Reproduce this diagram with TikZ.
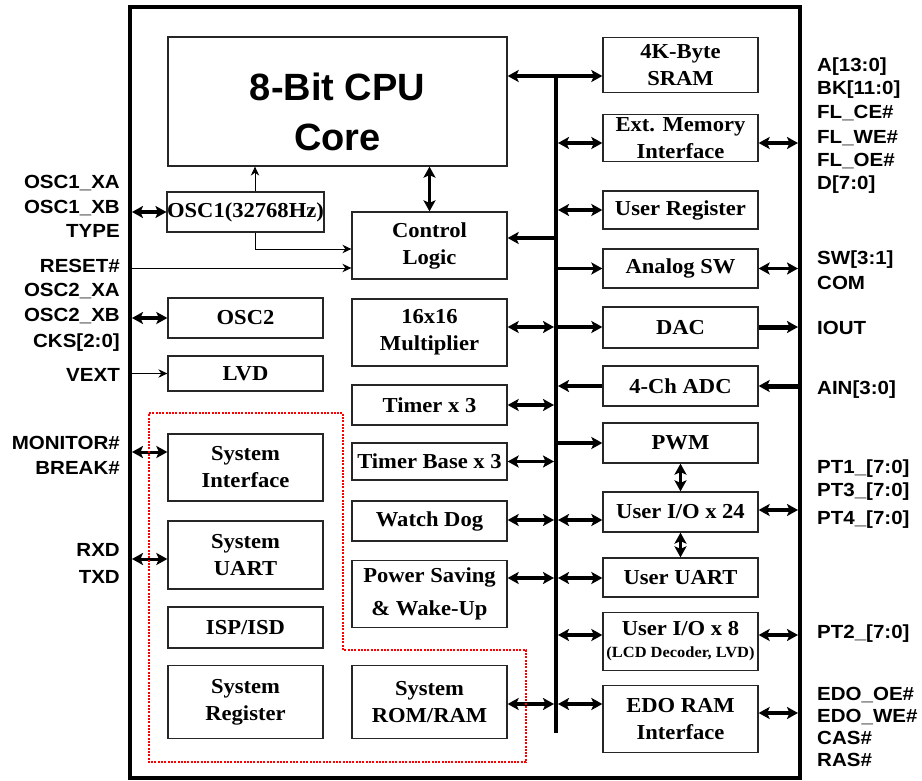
\documentclass[tikz,border=0pt]{standalone}
\usepackage{fontspec}
\setmainfont[FakeStretch=1.06]{Liberation Serif}
\newfontfamily\arialf[FakeStretch=1.08]{Liberation Sans}
\newfontfamily\arialcpu{Liberation Sans}
\usetikzlibrary{arrows.meta,calc}
\begin{document}
\begin{tikzpicture}[x=1pt,y=-1pt,
  blk/.style={draw=black!85, line width=1.3pt, inner sep=0pt, align=center,
    font=\bfseries\fontsize{21.3}{27}\selectfont},
  lbl/.style={font=\arialf\bfseries\fontsize{19}{23}\selectfont, inner sep=0pt,
    text height=13.6pt, text depth=0pt},
  dbl/.style={line width=3.4pt,
    arrows={Stealth[length=11pt,width=12pt,inset=2.5pt]-Stealth[length=11pt,width=12pt,inset=2.5pt]}},
  sgl/.style={line width=3.4pt, arrows={-Stealth[length=11pt,width=12pt,inset=2.5pt]}},
  thinarr/.style={line width=0.9pt, arrows={-Stealth[length=9pt,width=8.5pt,inset=3pt]}},
  reddot/.style={draw=red, line width=1.8pt, dash pattern=on 2pt off 1.3pt}
]
\useasboundingbox (0,0) rectangle (922,781);
\fill[white] (0,0) rectangle (922,781);

% frame
\draw[line width=4pt] (130,7.5) rectangle (800,777.5);
\coordinate (fL) at (132,0);
\coordinate (fR) at (798,0);

% rows
\coordinate (rTop) at (0,76);
\coordinate (rExt) at (0,143);
\coordinate (rCtrl) at (0,238);
\coordinate (rMult) at (0,327);
\coordinate (rAdc) at (0,386);
\coordinate (rWd) at (0,520);
\coordinate (rU24) at (0,510);
\coordinate (rPs) at (0,578);
\coordinate (rU8) at (0,635);
\coordinate (rRom) at (0,704);
\coordinate (rEdo) at (0,713);
\coordinate (rSI) at (0,452);
\coordinate (rSU) at (0,559);
\coordinate (rReset) at (0,268);
\coordinate (rOsc) at (0,249);
\coordinate (cOx) at (255,0);

% CPU
\node[blk, minimum width=339pt, minimum height=129pt] (cpu) at (337.5,101.5) {};
\node[font=\arialcpu\bfseries\fontsize{38}{50}\selectfont, align=center, inner sep=0pt]
  (cputxt) at ([yshift=-10pt]cpu.center) {8-Bit CPU\\Core};

% left column
\node[blk, minimum width=155pt, minimum height=40pt] (osc1) at (245.5,212) {OSC1(32768Hz)};
\node[blk, minimum width=155pt, minimum height=40pt] (osc2) at (245.5,318) {OSC2};
\node[blk, minimum width=155pt, minimum height=35pt] (lvd) at (245.5,373.5) {LVD};
\node[blk, minimum width=155pt, minimum height=67pt] (sysif) at (245.5,467.5) {System\\Interface};
\node[blk, minimum width=155pt, minimum height=68pt] (sysuart) at (245.5,555) {System\\UART};
\node[blk, minimum width=155pt, minimum height=41pt] (isp) at (245.5,627.5) {ISP/ISD};
\node[blk, minimum width=155pt, minimum height=73pt] (sysreg) at (245.5,702) {System\\Register};

% middle column
\node[blk, minimum width=155pt, minimum height=67pt] (ctrl) at (429.5,245.5) {Control\\Logic};
\node[blk, minimum width=155pt, minimum height=67pt] (mult) at (429.5,332.5) {16x16\\Multiplier};
\node[blk, minimum width=155pt, minimum height=40pt] (timer) at (429.5,405) {Timer x 3};
\node[blk, minimum width=155pt, minimum height=37pt] (tbase) at (429.5,461.5) {Timer Base x 3};
\node[blk, minimum width=155pt, minimum height=40pt] (wdog) at (429.5,521) {Watch Dog};
\node[blk, minimum width=155pt, minimum height=67pt] (psave) at (429.5,594) {Power Saving\\[6pt]\& Wake-Up};
\node[blk, minimum width=155pt, minimum height=73pt] (romram) at (429.5,702) {System\\ROM/RAM};

% right column
\node[blk, minimum width=155pt, minimum height=55pt] (sram) at (680.5,65) {4K-Byte\\SRAM};
\node[blk, minimum width=155pt, minimum height=47pt] (extmem) at (680.5,138) {Ext. Memory\\Interface};
\node[blk, minimum width=155pt, minimum height=38pt] (ureg) at (680.5,210) {User Register};
\node[blk, minimum width=155pt, minimum height=39pt] (asw) at (680.5,268.5) {Analog SW};
\node[blk, minimum width=155pt, minimum height=41pt] (dac) at (680.5,327.5) {DAC};
\node[blk, minimum width=155pt, minimum height=40pt] (adc) at (680.5,386) {4-Ch ADC};
\node[blk, minimum width=155pt, minimum height=40pt] (pwm) at (680.5,443) {PWM};
\node[blk, minimum width=155pt, minimum height=40pt] (uio24) at (680.5,512) {User I/O x 24};
\node[blk, minimum width=155pt, minimum height=39pt] (uuart) at (680.5,577.5) {User UART};
\node[blk, minimum width=155pt, minimum height=58pt] (uio8) at (680.5,641.5) {User I/O x 8\\[-5pt]{\fontsize{15.5}{20}\selectfont(LCD Decoder, LVD)}};
\node[blk, minimum width=155pt, minimum height=67pt] (edo) at (680.5,719) {EDO RAM\\Interface};

% bus
\coordinate (busT) at (556,74);
\coordinate (busB) at (556,733);
\coordinate (bL) at (554,0);
\coordinate (bR) at (558,0);
\draw[line width=4.5pt] (busT) -- (busB);

% bus connections
\draw[dbl] (cpu.east |- rTop) -- (sram.west |- rTop);
\draw[dbl] (bR |- rExt) -- (extmem.west |- rExt);
\draw[dbl] (bR |- ureg.west) -- (ureg.west);
\draw[sgl] (bL |- rCtrl) -- (ctrl.east |- rCtrl);
\draw[sgl] (bR |- asw.west) -- (asw.west);
\draw[dbl] (mult.east |- rMult) -- (bL |- rMult);
\draw[sgl] (bR |- rMult) -- (dac.west |- rMult);
\draw[sgl] (adc.west |- rAdc) -- (bR |- rAdc);
\draw[dbl] (timer.east) -- (bL |- timer.east);
\draw[sgl] (bR |- pwm.west) -- (pwm.west);
\draw[dbl] (tbase.east) -- (bL |- tbase.east);
\draw[dbl] (wdog.east |- rWd) -- (bL |- rWd);
\draw[dbl] (bR |- rWd) -- (uio24.west |- rWd);
\draw[dbl] (psave.east |- rPs) -- (bL |- rPs);
\draw[dbl] (bR |- rPs) -- (uuart.west |- rPs);
\draw[dbl] (bR |- rU8) -- (uio8.west |- rU8);
\draw[dbl] (romram.east |- rRom) -- (bL |- rRom);
\draw[dbl] (bR |- rRom) -- (edo.west |- rRom);

% vertical
\draw[dbl] (ctrl.north |- cpu.south) -- (ctrl.north);
\draw[dbl] (pwm.south) -- (uio24.north);
\draw[dbl] (uio24.south) -- (uuart.north);

% right external
\draw[dbl] (extmem.east |- rExt) -- (fR |- rExt);
\draw[dbl] (asw.east) -- (fR |- asw.east);
\draw[sgl, line width=5pt] (dac.east |- rMult) -- (fR |- rMult);
\draw[sgl, line width=5pt] (fR |- rAdc) -- (adc.east |- rAdc);
\draw[dbl] (uio24.east |- rU24) -- (fR |- rU24);
\draw[dbl] (uio8.east |- rU8) -- (fR |- rU8);
\draw[dbl] (edo.east |- rEdo) -- (fR |- rEdo);

% left external
\draw[dbl] (fL |- osc1.west) -- (osc1.west);
\draw[thinarr] (fL |- rReset) -- (ctrl.west |- rReset);
\draw[thinarr] (cOx |- osc1.south) |- (ctrl.west |- rOsc);
\draw[thinarr] (cOx |- osc1.north) -- (cOx |- cpu.south);
\draw[dbl] (fL |- osc2.west) -- (osc2.west);
\draw[thinarr] (fL |- lvd.west) -- (lvd.west);
\draw[dbl, line width=3pt] (fL |- rSI) -- (sysif.west |- rSI);
\draw[dbl, line width=3pt] (fL |- rSU) -- (sysuart.west |- rSU);

% red dotted region
\draw[reddot] (149,413) -- (343,413) -- (343,650) -- (526,650) -- (526,762) -- (149,762) -- cycle;

% left labels
\foreach \t/\y [count=\i] in {OSC1\_XA/182, OSC1\_XB/207, TYPE/231, RESET\#/266,
  OSC2\_XA/290, OSC2\_XB/315, CKS[2:0]/341, VEXT/375, MONITOR\#/443, BREAK\#/468,
  RXD/550, TXD/577}
  \node[lbl, anchor=east] (ll\i) at (120,\y) {\t};

% right labels
\foreach \t/\y [count=\i] in {A[13:0]/65, BK[11:0]/88, FL\_CE\#/112, FL\_WE\#/137,
  FL\_OE\#/160, D[7:0]/183, SW[3:1]/258, COM/283, IOUT/328, AIN[3:0]/388,
  PT1\_[7:0]/467, PT3\_[7:0]/490, PT4\_[7:0]/518, PT2\_[7:0]/632,
  EDO\_OE\#/694, EDO\_WE\#/716, CAS\#/738, RAS\#/760}
  \node[lbl, anchor=west] (rl\i) at (817,\y) {\t};
\end{tikzpicture}
\end{document}
